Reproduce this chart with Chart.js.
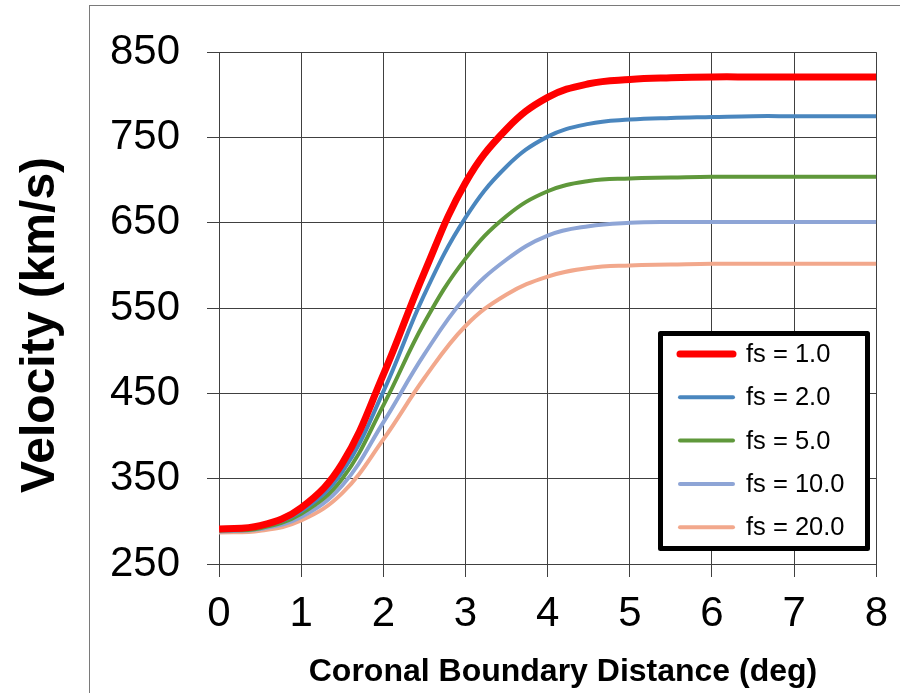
<!DOCTYPE html>
<html>
<head>
<meta charset="utf-8">
<script src="https://cdn.jsdelivr.net/npm/chart.js@4.4.1/dist/chart.umd.min.js"></script>
<style>
  html, body { margin: 0; padding: 0; background: #fff; }
  #wrap { position: relative; width: 900px; height: 693px; overflow: hidden; }
  #frame { position: absolute; left: 89px; top: 5px; right: -2px; bottom: -2px;
           border-left: 1px solid #7a7a7a; border-top: 1px solid #7a7a7a; pointer-events: none; }
</style>
</head>
<body>
<div id="wrap">
  <canvas id="chart" width="900" height="693"></canvas>
  <div id="frame"></div>
</div>
<script>
// x values (deg) and velocities (km/s)
const distance = [0, 0.5, 1, 1.5, 2, 2.5, 3, 3.5, 4, 4.5, 5, 5.5, 6, 6.5, 7, 7.5, 8];
const fs1  = [291, 295, 316, 368, 472, 592, 697, 760, 797, 813, 818, 820, 821, 821, 821, 821, 821];
const fs2  = [290, 294, 312, 358, 452, 566, 656, 716, 751, 766, 771, 773, 774, 775, 775, 775, 775];
const fs5  = [289, 292, 309, 350, 436, 533, 608, 658, 687, 699, 702, 703, 704, 704, 704, 704, 704];
const fs10 = [288, 291, 305, 342, 416, 496, 563, 607, 635, 646, 650, 651, 651, 651, 651, 651, 651];
const fs20 = [287, 289, 301, 333, 396, 468, 529, 566, 587, 597, 600, 601, 602, 602, 602, 602, 602];

const seriesLabels = ['fs = 1.0', 'fs = 2.0', 'fs = 5.0', 'fs = 10.0', 'fs = 20.0'];
const seriesColors = ['#FF0000', '#4A86BE', '#5F983B', '#8EA5D6', '#F2A88C'];
const seriesWidths = [7, 4, 4, 4, 4];

const xTitle = 'Coronal Boundary Distance (deg)';
const yTitle = 'Velocity (km/s)';

const FONT = '"Liberation Sans", Arial, sans-serif';
const GRID = '#404040';

function toPoints(ys) {
    return distance.map((x, i) => ({ x: x, y: ys[i] }));
}

// 축 제목: 원본 위치에 맞춰 직접 그림
const axisTitles = {
    id: 'axisTitles',
    afterDraw(chart) {
        const ctx = chart.ctx;
        ctx.save();
        ctx.fillStyle = '#000';
        ctx.textAlign = 'center';
        ctx.textBaseline = 'middle';
        ctx.font = 'bold 32px ' + FONT;
        ctx.fillText(xTitle, 563, 672);
        ctx.translate(41, 325);
        ctx.rotate(-Math.PI / 2);
        ctx.font = 'bold 48px ' + FONT;
        ctx.fillText(yTitle, 0, 0);
        ctx.restore();
    }
};

// 범례 박스 (데이터셋에서 라벨/색상 읽음)
const legendBox = {
    id: 'legendBox',
    afterDatasetsDraw(chart) {
        const ctx = chart.ctx;
        const x0 = 658, y0 = 331, w = 212, h = 220;
        ctx.save();
        ctx.fillStyle = '#fff';
        ctx.fillRect(x0, y0, w, h);
        ctx.lineWidth = 5;
        ctx.strokeStyle = '#000';
        ctx.lineJoin = 'round';
        ctx.strokeRect(x0 + 2.5, y0 + 2.5, w - 5, h - 5);
        chart.data.datasets.forEach((ds, i) => {
            const y = 354 + i * 43.3;
            ctx.strokeStyle = ds.borderColor;
            ctx.lineWidth = ds.borderWidth;
            ctx.lineCap = 'round';
            ctx.beginPath();
            ctx.moveTo(680, y);
            ctx.lineTo(733, y);
            ctx.stroke();
            ctx.fillStyle = '#000';
            ctx.font = '25.5px ' + FONT;
            ctx.textAlign = 'left';
            ctx.textBaseline = 'middle';
            ctx.fillText(ds.label, 746, y + 1);
        });
        ctx.restore();
    }
};

const seriesData = [fs1, fs2, fs5, fs10, fs20];

new Chart(document.getElementById('chart').getContext('2d'), {
    type: 'line',
    data: {
        datasets: seriesData.map((ys, i) => ({
            label: seriesLabels[i],
            data: toPoints(ys),
            borderColor: seriesColors[i],
            backgroundColor: seriesColors[i],
            borderWidth: seriesWidths[i],
            pointRadius: 0,
            tension: 0.4,
            fill: false
        }))
    },
    options: {
        responsive: false,
        animation: false,
        layout: { padding: { top: 47, right: 23, bottom: 0, left: 0 } },
        scales: {
            x: {
                type: 'linear',
                min: 0,
                max: 8,
                ticks: {
                    stepSize: 1,
                    color: '#000',
                    padding: 12,
                    font: { family: FONT, size: 42 }
                },
                grid: { color: GRID, tickLength: 13 },
                border: { color: GRID },
                afterFit(scale) { scale.height = 129; }
            },
            y: {
                min: 250,
                max: 850,
                ticks: {
                    stepSize: 100,
                    color: '#000',
                    padding: 27,
                    font: { family: FONT, size: 42 }
                },
                grid: { color: GRID, tickLength: 12 },
                border: { color: GRID },
                afterFit(scale) { scale.width = 219; }
            }
        },
        plugins: {
            legend: { display: false },
            tooltip: { enabled: false }
        }
    },
    plugins: [legendBox, axisTitles]
});
</script>
</body>
</html>
